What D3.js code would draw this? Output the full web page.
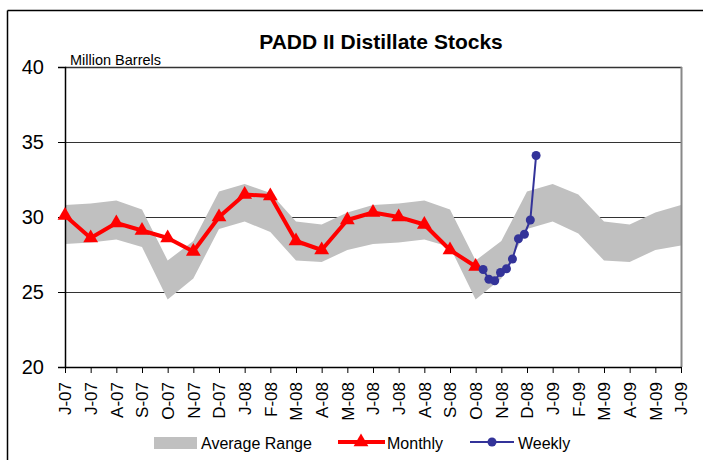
<!DOCTYPE html>
<html><head><meta charset="utf-8">
<script src="https://cdn.jsdelivr.net/npm/d3@7"></script>
<style>html,body{margin:0;padding:0;background:#fff;}svg{display:block;font-family:"Liberation Sans",Arial,sans-serif;}</style>
</head><body><svg id="c" width="703" height="460"></svg>
<script>
const monthLabels = ["J-07","J-07","A-07","S-07","O-07","N-07","D-07","J-08","F-08","M-08","A-08","M-08","J-08","J-08","A-08","S-08","O-08","N-08","D-08","J-09","F-09","M-09","A-09","M-09","J-09"];
const rangeUpper = [30.8,30.9,31.1,30.5,27.1,28.4,31.7,32.2,31.6,29.7,29.5,30.3,30.8,30.9,31.1,30.5,27.1,28.4,31.7,32.2,31.5,29.7,29.5,30.3,30.8];
const rangeLower = [28.2,28.3,28.5,28.0,24.5,25.9,29.2,29.7,29.0,27.1,27.0,27.8,28.2,28.3,28.5,28.0,24.5,25.9,29.2,29.7,28.9,27.1,27.0,27.8,28.1];
const monthly = [30.1,28.6,29.6,29.1,28.6,27.7,30.0,31.5,31.4,28.4,27.8,29.8,30.3,30.0,29.5,27.8,26.7];
const weeklyDates = ["2008-10-10","2008-10-17","2008-10-24","2008-10-31","2008-11-07","2008-11-14","2008-11-21","2008-11-28","2008-12-05","2008-12-12"];
const weekly = [26.5,25.85,25.75,26.3,26.55,27.2,28.55,28.85,29.8,34.1];
const yTicks = [20,25,30,35,40];

const svg = d3.select("#c");
const L=65, R=681, T=67, B=367;
const x = d3.scaleLinear().domain([0,24]).range([L,R]);
const y = d3.scaleLinear().domain([20,40]).range([B,T]);
// month index from a date (month 0 = June 2007)
function mIdx(s){const d=new Date(s+"T00:00:00Z");const yr=d.getUTCFullYear(),mo=d.getUTCMonth();
  const dim=new Date(Date.UTC(yr,mo+1,0)).getUTCDate();return (yr-2007)*12+mo-5+(d.getUTCDate()-1)/dim;}

// chart frame
svg.append("line").attr("x1",7.5).attr("x2",703).attr("y1",10.5).attr("y2",10.5).attr("stroke","#000").attr("stroke-width",1.5);
svg.append("line").attr("x1",7.5).attr("x2",7.5).attr("y1",10.5).attr("y2",460).attr("stroke","#000").attr("stroke-width",1.5);

// gridlines
svg.append("g").selectAll("line").data(yTicks.filter(v=>v>20&&v<40)).join("line")
  .attr("x1",L).attr("x2",R).attr("y1",d=>Math.round(y(d))+0.5).attr("y2",d=>Math.round(y(d))+0.5)
  .attr("stroke","#333").attr("stroke-width",1);

// band
const idx = d3.range(rangeUpper.length);
svg.append("path").datum(idx)
  .attr("d", d3.area().x(i=>x(i)).y0(i=>y(rangeLower[i])).y1(i=>y(rangeUpper[i])))
  .attr("fill","#c0c0c0");

// plot border top/right
svg.append("line").attr("x1",L).attr("x2",R+1).attr("y1",T+0.5).attr("y2",T+0.5).attr("stroke","#333").attr("stroke-width",1.5);
svg.append("line").attr("x1",R+0.5).attr("x2",R+0.5).attr("y1",T).attr("y2",B).attr("stroke","#888").attr("stroke-width",2);

// axes
const yAxis = d3.axisLeft(y).tickValues(yTicks).tickSize(7).tickPadding(14).tickFormat(d3.format("d"));
const gy = svg.append("g").attr("transform",`translate(${L},0)`).call(yAxis);
gy.select(".domain").attr("stroke","#000").attr("stroke-width",1.5);
gy.selectAll(".tick line").attr("stroke","#000");
gy.selectAll("text").attr("font-size",20).attr("fill","#000").attr("font-family","Liberation Sans, Arial, sans-serif");

const xAxis = d3.axisBottom(x).tickValues(idx).tickSize(6).tickSizeOuter(0).tickFormat(i=>monthLabels[i]);
const gx = svg.append("g").attr("transform",`translate(0,${B})`).call(xAxis);
gx.select(".domain").attr("stroke","#000").attr("stroke-width",1.5);
gx.selectAll(".tick line").attr("stroke","#000");
gx.selectAll("text").attr("font-size",17).attr("fill","#000").attr("font-family","Liberation Sans, Arial, sans-serif")
  .attr("transform","rotate(-90)").attr("text-anchor","end").attr("dy","0.35em").attr("x",-15).attr("y",0);

// monthly line
svg.append("path").datum(monthly)
  .attr("d", d3.line().x((d,i)=>x(i)).y(d=>y(d)))
  .attr("fill","none").attr("stroke","#ff0000").attr("stroke-width",4).attr("stroke-linejoin","round");
const tri = d3.symbol().type(d3.symbolTriangle).size(95);
svg.append("g").selectAll("path").data(monthly).join("path")
  .attr("d",tri).attr("transform",(d,i)=>`translate(${x(i)},${y(d)})`).attr("fill","#ff0000");

// weekly line
const wx = weeklyDates.map(mIdx);
svg.append("path").datum(weekly)
  .attr("d", d3.line().x((d,i)=>x(wx[i])).y(d=>y(d)))
  .attr("fill","none").attr("stroke","#333399").attr("stroke-width",2);
svg.append("g").selectAll("circle").data(weekly).join("circle")
  .attr("cx",(d,i)=>x(wx[i])).attr("cy",d=>y(d)).attr("r",4.5).attr("fill","#333399");

// titles
svg.append("text").attr("x",381).attr("y",49).attr("text-anchor","middle").attr("font-size",21).attr("font-weight","bold").text("PADD II Distillate Stocks");
svg.append("text").attr("x",70).attr("y",65).attr("font-size",14.5).text("Million Barrels");

// legend
const ly = 442;
svg.append("rect").attr("x",154).attr("y",437).attr("width",43).attr("height",12).attr("fill","#c0c0c0");
svg.append("text").attr("x",201).attr("y",449).attr("font-size",16).text("Average Range");
svg.append("line").attr("x1",338).attr("x2",385).attr("y1",ly).attr("y2",ly).attr("stroke","#ff0000").attr("stroke-width",4);
svg.append("path").attr("d",tri).attr("transform",`translate(361,${ly})`).attr("fill","#ff0000");
svg.append("text").attr("x",387).attr("y",449).attr("font-size",16).text("Monthly");
svg.append("line").attr("x1",470).attr("x2",514).attr("y1",ly).attr("y2",ly).attr("stroke","#333399").attr("stroke-width",2);
svg.append("circle").attr("cx",492).attr("cy",ly).attr("r",4.5).attr("fill","#333399");
svg.append("text").attr("x",518).attr("y",449).attr("font-size",16).text("Weekly");
</script></body></html>
